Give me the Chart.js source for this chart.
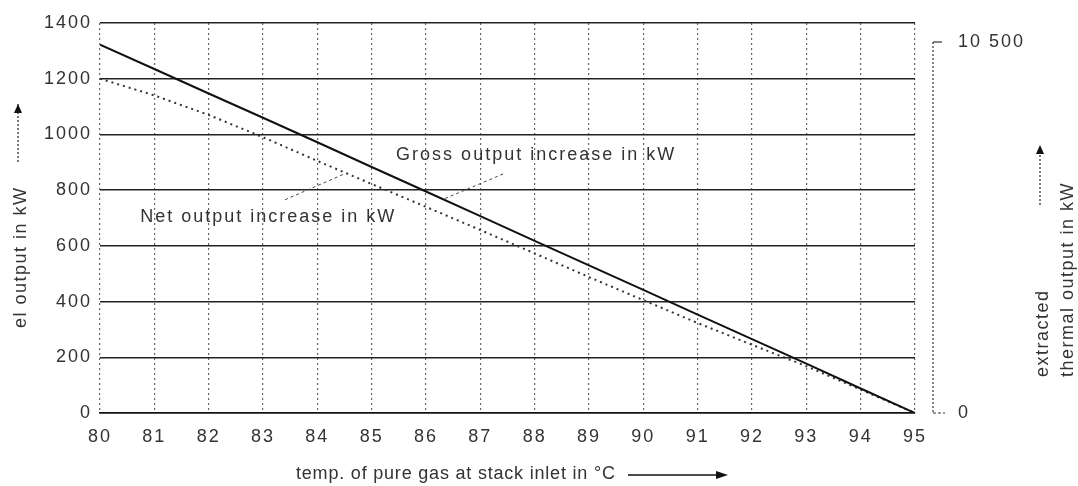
<!DOCTYPE html>
<html>
<head>
<meta charset="utf-8">
<script src="https://cdn.jsdelivr.net/npm/chart.js@4"></script>
<style>
  html, body { margin: 0; padding: 0; background: #fff; }
</style>
</head>
<body>
<canvas id="chart" width="1078" height="486"></canvas>
<script>
// temperatures of pure gas at stack inlet (°C)
const temps = [80, 81, 82, 83, 84, 85, 86, 87, 88, 89, 90, 91, 92, 93, 94, 95]
// gross output increase, kW (solid)
const grossOutput = [1322, 1235, 1147, 1060, 972, 883, 795, 707, 618, 530, 442, 353, 265, 177, 88, 0]
// net output increase, kW (dotted)
const netOutput = [1200, 1140, 1070, 990, 905, 822, 740, 657, 573, 488, 405, 323, 245, 168, 84, 0]
// left and right axis ticks
const leftTicks = [0, 200, 400, 600, 800, 1000, 1200, 1400]
const rightTicks = [0, 10500]

const textColor = '#333'
const fontFamily = '"Liberation Sans", Arial, Helvetica, sans-serif'

Chart.defaults.font.family = fontFamily
Chart.defaults.font.size = 18
Chart.defaults.color = textColor

function dottedArrow(ctx, x1, y1, x2, y2) {
	ctx.save()
	ctx.strokeStyle = '#222'
	ctx.lineWidth = 1.2
	ctx.setLineDash([2, 2])
	ctx.beginPath()
	ctx.moveTo(x1, y1)
	ctx.lineTo(x2, y2)
	ctx.stroke()
	ctx.setLineDash([])
	const a = Math.atan2(y2 - y1, x2 - x1)
	ctx.fillStyle = '#111'
	ctx.beginPath()
	ctx.moveTo(x2, y2)
	ctx.lineTo(x2 - 9 * Math.cos(a) + 4 * Math.sin(a), y2 - 9 * Math.sin(a) - 4 * Math.cos(a))
	ctx.lineTo(x2 - 9 * Math.cos(a) - 4 * Math.sin(a), y2 - 9 * Math.sin(a) + 4 * Math.cos(a))
	ctx.closePath()
	ctx.fill()
	ctx.restore()
}

function rotatedText(ctx, text, x, y) {
	ctx.save()
	ctx.translate(x, y)
	ctx.rotate(-Math.PI / 2)
	ctx.textAlign = 'left'
	ctx.textBaseline = 'alphabetic'
	ctx.fillText(text, 0, 0)
	ctx.restore()
}

// labels, leader lines, axis titles and the separate right axis line
const overlay = {
	id: 'overlay',
	beforeUpdate(chart) { chart.ctx.letterSpacing = '2px' },
	beforeDraw(chart) { chart.ctx.letterSpacing = '2px' },
	afterDraw(chart) {
		const {ctx, chartArea} = chart
		const {x, y, y2} = chart.scales
		ctx.save()
		ctx.fillStyle = textColor
		ctx.font = `18px ${fontFamily}`
		ctx.letterSpacing = '2px'

		// curve labels
		ctx.textAlign = 'left'
		ctx.textBaseline = 'middle'
		ctx.fillText('Gross output increase in kW', x.getPixelForValue(85.45), y.getPixelForValue(925))
		ctx.fillText('Net output increase in kW', x.getPixelForValue(80.74), y.getPixelForValue(705))

		// leader lines
		ctx.strokeStyle = '#444'
		ctx.lineWidth = 1
		ctx.setLineDash([3, 3])
		ctx.beginPath()
		ctx.moveTo(x.getPixelForValue(87.42), y.getPixelForValue(858))
		ctx.lineTo(x.getPixelForValue(86.35), y.getPixelForValue(770))
		ctx.moveTo(x.getPixelForValue(84.47), y.getPixelForValue(856))
		ctx.lineTo(x.getPixelForValue(83.40), y.getPixelForValue(765))
		ctx.stroke()
		ctx.setLineDash([])

		// right axis line, set off from the plot
		const ax = chartArea.right + 18
		const top = y2.getPixelForValue(10500)
		const bottom = y2.getPixelForValue(0)
		ctx.strokeStyle = '#333'
		ctx.lineWidth = 1.2
		ctx.setLineDash([2, 2])
		ctx.beginPath()
		ctx.moveTo(ax, top)
		ctx.lineTo(ax, bottom)
		ctx.stroke()
		ctx.setLineDash([])
		ctx.beginPath()
		ctx.moveTo(ax, top)
		ctx.lineTo(ax + 9, top)
		ctx.stroke()
		ctx.setLineDash([3, 2])
		ctx.beginPath()
		ctx.moveTo(ax, bottom)
		ctx.lineTo(ax + 12, bottom)
		ctx.stroke()
		ctx.setLineDash([])

		// axis titles
		ctx.letterSpacing = '1.5px'
		rotatedText(ctx, 'el output in kW', 26, 328)
		dottedArrow(ctx, 18, 162, 18, 104)
		rotatedText(ctx, 'extracted', 1048, 377)
		rotatedText(ctx, 'thermal output in kW', 1073, 377)
		dottedArrow(ctx, 1040, 205, 1040, 145)

		ctx.letterSpacing = '0.8px'
		ctx.textAlign = 'left'
		ctx.textBaseline = 'middle'
		ctx.fillText('temp. of pure gas at stack inlet in °C', 296, 474)
		ctx.strokeStyle = '#111'
		ctx.lineWidth = 1.3
		ctx.beginPath()
		ctx.moveTo(628, 475)
		ctx.lineTo(718, 475)
		ctx.stroke()
		ctx.fillStyle = '#111'
		ctx.beginPath()
		ctx.moveTo(728, 475)
		ctx.lineTo(716, 471)
		ctx.lineTo(716, 479)
		ctx.closePath()
		ctx.fill()
		ctx.restore()
	}
}

const ctx = document.getElementById('chart').getContext('2d')
new Chart(ctx, {
	type: 'line',
	data: {
		datasets: [
			{
				label: 'Gross output increase in kW',
				data: temps.map((t, i) => ({x: t, y: grossOutput[i]})),
				borderColor: '#111',
				borderWidth: 2,
				pointRadius: 0,
				tension: 0,
			},
			{
				label: 'Net output increase in kW',
				data: temps.map((t, i) => ({x: t, y: netOutput[i]})),
				borderColor: '#333',
				borderWidth: 2,
				borderDash: [2, 4],
				pointRadius: 0,
				tension: 0,
			},
		],
	},
	options: {
		responsive: false,
		animation: false,
		layout: {padding: {top: 23}},
		plugins: {legend: {display: false}, tooltip: {enabled: false}},
		scales: {
			x: {
				type: 'linear',
				min: 80,
				max: 95,
				afterBuildTicks: s => { s.ticks = temps.map(v => ({value: v})) },
				afterFit: s => { s.height = 73; s.paddingLeft = 0; s.paddingRight = 0 },
				ticks: {padding: 13, callback: v => String(v)},
				grid: {color: '#666', lineWidth: 1.2, drawTicks: false},
				border: {display: true, color: '#111', width: 1.5, dash: [2, 3]},
			},
			y: {
				min: 0,
				max: 1400,
				afterBuildTicks: s => { s.ticks = leftTicks.map(v => ({value: v})) },
				afterFit: s => { s.width = 100; s.paddingTop = 0; s.paddingBottom = 0 },
				ticks: {padding: 8, callback: v => String(v)},
				grid: {color: '#222', lineWidth: 1.5, drawTicks: false},
				border: {display: false},
			},
			y2: {
				position: 'right',
				min: 0,
				max: 11038,
				afterBuildTicks: s => { s.ticks = rightTicks.map(v => ({value: v})) },
				afterFit: s => { s.width = 163; s.paddingTop = 0; s.paddingBottom = 0 },
				ticks: {padding: 43, callback: v => v >= 1000 ? String(v).replace(/(\d)(\d{3})$/, '$1 $2') : String(v)},
				grid: {display: false, drawTicks: false},
				border: {display: false},
			},
		},
	},
	plugins: [overlay],
})
</script>
</body>
</html>
